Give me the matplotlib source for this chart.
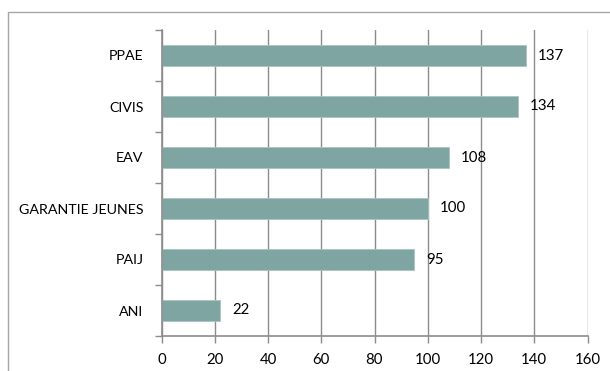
import matplotlib
matplotlib.use('Agg')
import matplotlib.pyplot as plt
from matplotlib.patches import Rectangle

categories = ['PPAE', 'CIVIS', 'EAV', 'GARANTIE JEUNES', 'PAIJ', 'ANI']
values = [137, 134, 108, 100, 95, 22]
x_ticks = [0, 20, 40, 60, 80, 100, 120, 140, 160]

BAR = '#7fa5a2'
GRID = '#8c8c8c'

plt.rcParams['font.family'] = ['Lato', 'DejaVu Sans']


def main():
    fig = plt.figure(figsize=(6.1, 3.71), dpi=100)
    ax = fig.add_axes([161.5 / 610, 1 - 336 / 371, 426 / 610, 306 / 371])

    # outer frame, open at the right and bottom edges like the original crop
    fig.patches.append(Rectangle((7.5 / 610, -0.05), 1.1, 1 - 11.5 / 371 + 0.05,
                                 transform=fig.transFigure, fill=False,
                                 edgecolor='#a6a6a6', linewidth=1.0))

    pos = list(range(len(categories)))
    ax.barh(pos, values, height=0.4, color=BAR, edgecolor='#a9c4c1',
            linewidth=0.6, zorder=3)
    for p, v in zip(pos, values):
        ax.text(v + 4.5, p, str(v), va='center', ha='left', fontsize=10.8,
                color='black', zorder=4)

    ax.set_xlim(0, 160)
    ax.set_ylim(5.5, -0.5)
    ax.set_xticks(x_ticks)
    ax.set_xticklabels([str(t) for t in x_ticks], fontsize=10.8)
    ax.set_yticks(pos)
    ax.set_yticklabels(categories, fontsize=10.3)
    ax.tick_params(axis='y', length=0, pad=13)
    ax.set_yticks([i - 0.5 for i in range(len(categories) + 1)], minor=True)
    ax.tick_params(axis='y', which='minor', length=5, color=GRID, width=1)
    ax.tick_params(axis='x', length=5, color=GRID, width=1, pad=7)

    ax.grid(axis='x', color=GRID, linewidth=1, zorder=0)
    for side in ('top', 'right'):
        ax.spines[side].set_visible(False)
    for side in ('left', 'bottom'):
        ax.spines[side].set_color(GRID)
        ax.spines[side].set_linewidth(1.2)
        ax.spines[side].set_zorder(5)

    fig.savefig('out.png', dpi=100)


if __name__ == '__main__':
    main()
